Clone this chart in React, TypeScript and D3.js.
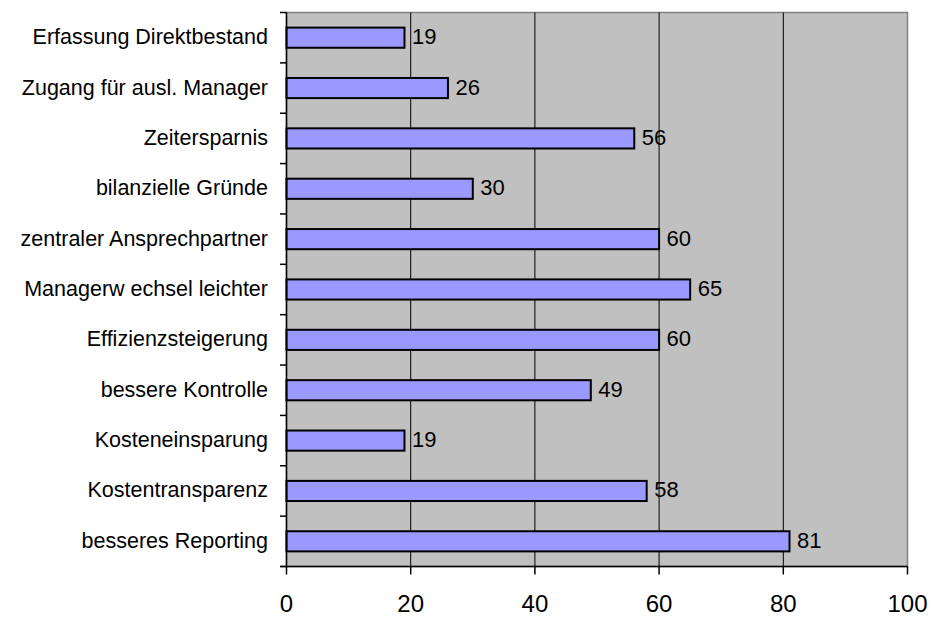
import React from "react";
import * as d3 from "d3";

const categories = [
  "Erfassung Direktbestand",
  "Zugang für ausl. Manager",
  "Zeitersparnis",
  "bilanzielle Gründe",
  "zentraler Ansprechpartner",
  "Managerw echsel leichter",
  "Effizienzsteigerung",
  "bessere Kontrolle",
  "Kosteneinsparung",
  "Kostentransparenz",
  "besseres Reporting",
];
const values = [19, 26, 56, 30, 60, 65, 60, 49, 19, 58, 81];
const xTicks = [0, 20, 40, 60, 80, 100];

const W = 933;
const H = 617;
const left = 286.5;
const right = 907.5;
const top = 12.5;
const bottom = 566.5;
const font = "'Liberation Sans', Arial, Helvetica, sans-serif";

export default function App() {
  const x = d3.scaleLinear().domain([0, 100]).range([left, right]);
  const y = d3
    .scaleBand<string>()
    .domain(categories)
    .range([top, bottom])
    .paddingInner(0.6)
    .paddingOuter(0.3);
  const band = (bottom - top) / categories.length;
  const boundaries = d3.range(categories.length + 1).map((i) => top + i * band);

  return (
    <svg
      width={W}
      height={H}
      style={{ position: "absolute", left: 0, top: 0, background: "#fff" }}
      fontFamily={font}
    >
      <rect x={left} y={top} width={right - left} height={bottom - top} fill="#c0c0c0" stroke="#808080" strokeWidth={1.5} />
      {xTicks.slice(1, -1).map((t) => (
        <line key={t} x1={x(t)} x2={x(t)} y1={top} y2={bottom} stroke="#000" strokeWidth={1} />
      ))}
      {categories.map((c, i) => {
        const cy = (y(c) as number) + y.bandwidth() / 2;
        const h = y.bandwidth();
        return (
          <g key={c}>
            <rect
              x={x(0)}
              y={cy - h / 2}
              width={x(values[i]) - x(0)}
              height={h}
              fill="#9999ff"
              stroke="#000"
              strokeWidth={2}
            />
            <text x={x(values[i]) + 7.5} y={cy + 6.5} fontSize={22} fill="#000">
              {values[i]}
            </text>
            <text x={268} y={cy + 6.5} fontSize={21.5} textAnchor="end" fill="#000">
              {c}
            </text>
          </g>
        );
      })}
      {/* left axis */}
      <line x1={left} x2={left} y1={top} y2={bottom} stroke="#000" strokeWidth={1.5} />
      {boundaries.map((b, i) => (
        <line key={i} x1={280} x2={left} y1={b} y2={b} stroke="#000" strokeWidth={1.5} />
      ))}
      {/* bottom axis */}
      <line x1={left - 6} x2={right} y1={bottom} y2={bottom} stroke="#000" strokeWidth={1.5} />
      {xTicks.map((t) => (
        <g key={t}>
          <line x1={x(t)} x2={x(t)} y1={bottom} y2={bottom + 8} stroke="#000" strokeWidth={1.5} />
          <text x={x(t)} y={612} fontSize={24} textAnchor="middle" fill="#000">
            {t}
          </text>
        </g>
      ))}
    </svg>
  );
}
